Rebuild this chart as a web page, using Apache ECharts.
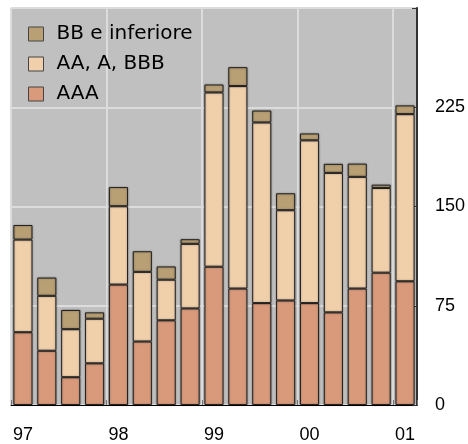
<!DOCTYPE html>
<html>
<head>
<meta charset="utf-8">
<script src="https://cdn.jsdelivr.net/npm/echarts@6/dist/echarts.min.js"></script>
<style>
html,body{margin:0;padding:0;background:#fff;}
#c{width:468px;height:444px;}
</style>
</head>
<body>
<div id="c"></div>
<script>
var categories = ['97 T1','97 T2','97 T3','97 T4','98 T1','98 T2','98 T3','98 T4','99 T1','99 T2','99 T3','99 T4','00 T1','00 T2','00 T3','00 T4','01 T1'];
var yearLabels = ['97','98','99','00','01'];
var aaa = [55, 41, 21, 31.5, 91, 48, 64, 73, 104.5, 88, 77, 79, 77, 70, 88, 100, 93.5];
var aaABbb = [70, 41.5, 36.3, 33.7, 59.2, 52.6, 30.7, 48.8, 131.7, 153, 136.5, 68.2, 123, 105.4, 84.4, 64, 126.3];
var bbInf = [11, 13.8, 14.5, 4.8, 14.5, 15.6, 10, 3.5, 6, 14.3, 9, 12.8, 5.2, 6.8, 10, 2.5, 6.6];
var yTicks = [0, 75, 150, 225];

var FONT = "'Liberation Sans', Arial, sans-serif";
var chart = echarts.init(document.getElementById('c'), null, {renderer: 'canvas'});

function barStyle(color) {
  return {
    color: color,
    borderColor: '#222',
    borderWidth: 1,
    shadowColor: 'rgba(0,0,0,0.35)',
    shadowBlur: 2,
    shadowOffsetX: 0
  };
}

chart.setOption({
  animation: false,
  textStyle: {fontFamily: FONT},
  grid: {
    left: 11, right: 51, top: 8, bottom: 39,
    show: true, backgroundColor: '#C0C0C0', borderColor: '#555', borderWidth: 1
  },
  legend: {
    orient: 'vertical',
    left: 23, top: 19,
    itemWidth: 15, itemHeight: 14, itemGap: 10,
    icon: 'rect',
    data: ['BB e inferiore', 'AA, A, BBB', 'AAA'],
    textStyle: {fontSize: 20, color: '#000', fontFamily: "'DejaVu Sans', sans-serif", padding: [0, 0, 0, 8]},
    itemStyle: {borderColor: '#444', borderWidth: 1}
  },
  xAxis: {
    type: 'category',
    data: categories,
    boundaryGap: true,
    axisLine: {show: true, lineStyle: {color: '#000', width: 1}},
    axisTick: {show: true, inside: true, length: 5, interval: 3, lineStyle: {color: '#777'}},
    axisLabel: {
      interval: 3, fontSize: 18, color: '#000', margin: 21, fontFamily: FONT,
      formatter: function (v, i) { return yearLabels[i / 4]; }
    },
    splitLine: {show: true, interval: 3, lineStyle: {color: '#DCDCDC', width: 2}}
  },
  yAxis: {
    type: 'value',
    position: 'right',
    min: 0, max: 300, interval: 75,
    axisLine: {show: true, lineStyle: {color: '#333', width: 2}},
    axisTick: {show: true, inside: true, length: 5, lineStyle: {color: '#333'}},
    axisLabel: {
      fontSize: 18, color: '#000', margin: 18, fontFamily: FONT,
      formatter: function (v) { return yTicks.indexOf(v) >= 0 ? String(v) : ''; }
    },
    splitLine: {show: true, lineStyle: {color: '#DCDCDC', width: 2}}
  },
  series: [
    {name: 'AAA', type: 'bar', stack: 's', barWidth: '80%', data: aaa, itemStyle: barStyle('#D89A7A')},
    {name: 'AA, A, BBB', type: 'bar', stack: 's', barWidth: '80%', data: aaABbb, itemStyle: barStyle('#F0CFAB')},
    {name: 'BB e inferiore', type: 'bar', stack: 's', barWidth: '80%', data: bbInf, itemStyle: barStyle('#B89F74')}
  ]
});
</script>
</body>
</html>
